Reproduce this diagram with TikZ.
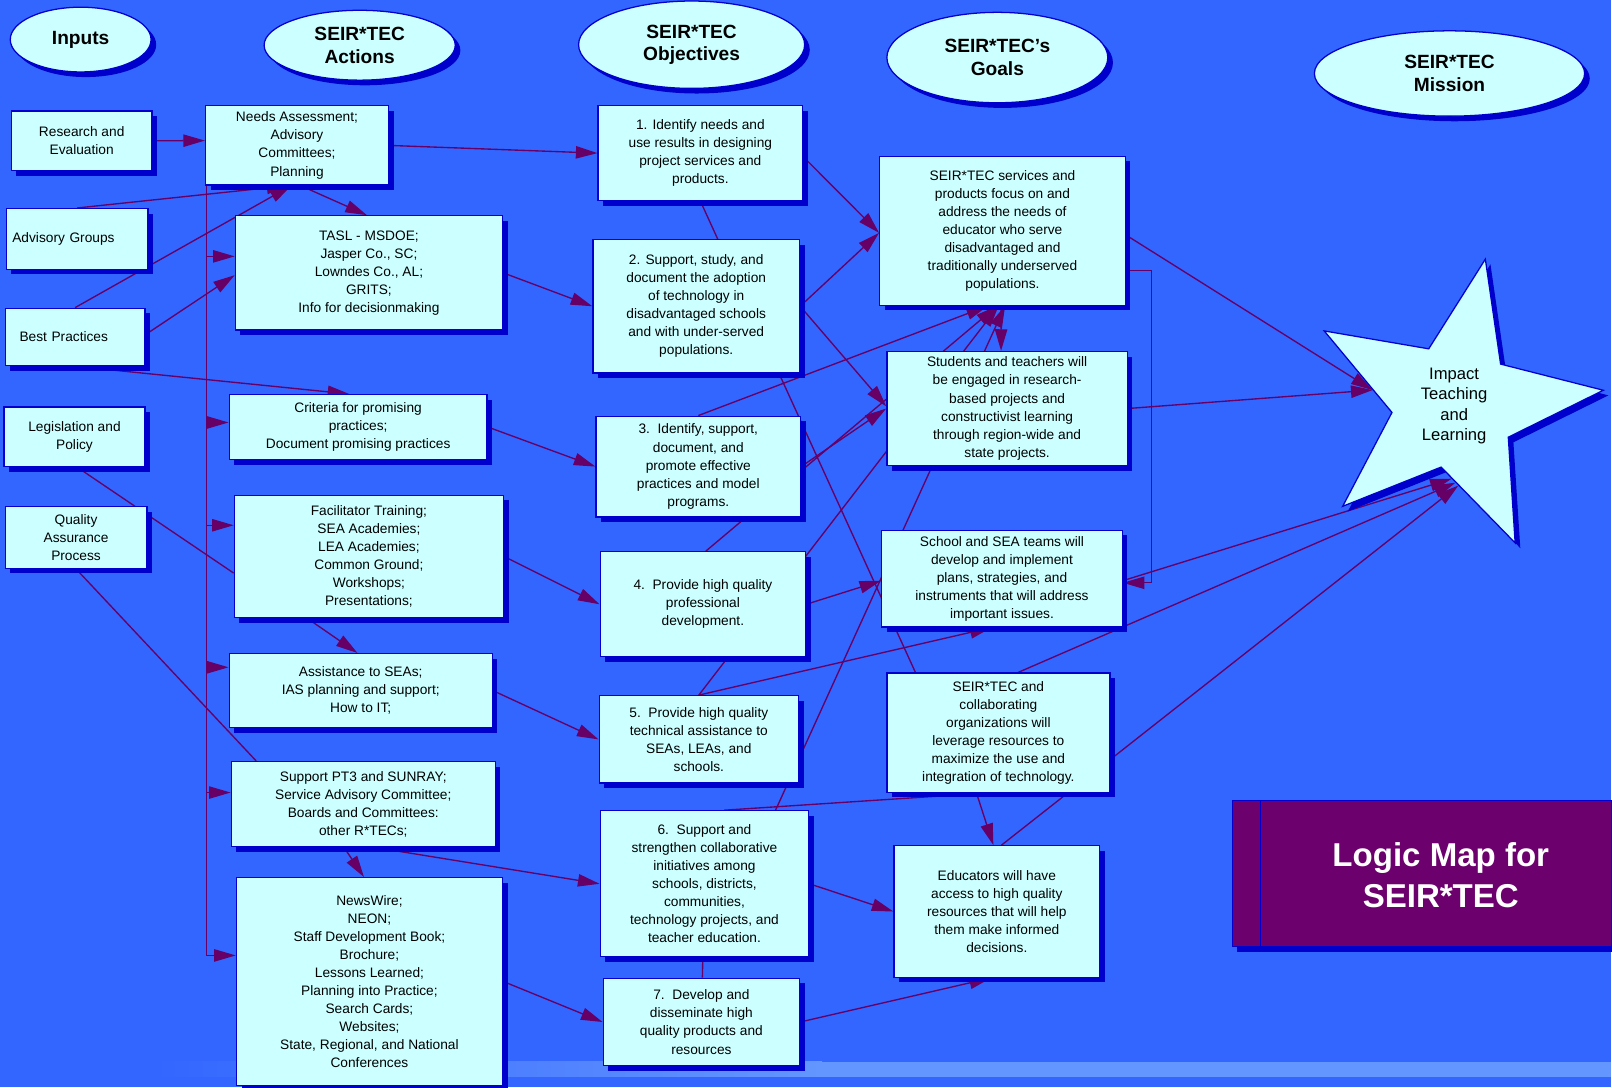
\documentclass[tikz,border=0pt]{standalone}
\usepackage{fontspec}
\setmainfont{Liberation Sans}
\usetikzlibrary{shapes.geometric,arrows.meta,shadows}
\definecolor{bgblue}{RGB}{51,102,255}
\definecolor{stripeblue}{RGB}{100,150,255}
\definecolor{boxfill}{RGB}{204,255,255}
\definecolor{boxline}{RGB}{0,0,204}
\definecolor{linkc}{RGB}{102,0,102}
\definecolor{titlefill}{RGB}{108,0,108}
\pgfdeclarelayer{bg}
\pgfdeclarelayer{lines}
\pgfsetlayers{bg,lines,main}
\tikzset{
  shadowed/.style={drop shadow={shadow xshift=0.1cm, shadow yshift=-0.1cm, fill=boxline, opacity=1}},
  inbox/.style 2 args={draw=boxline, line width=0.7pt, fill=boxfill, shadowed,
    minimum width=#1*0.02cm, minimum height=#2*0.02cm, inner sep=1pt,
    align=center, font=\fontsize{7.6}{10}\selectfont},
  hdr/.style 2 args={ellipse, draw=boxline, line width=0.7pt, fill=boxfill, shadowed,
    minimum width=#1*0.02cm, minimum height=#2*0.02cm, inner sep=0pt,
    align=center, font=\bfseries\fontsize{10.6}{12.5}\selectfont},
  link/.style={draw=linkc, line width=0.75pt, -{Triangle[length=0.42cm, width=0.24cm]}},
  plainlink/.style={draw=linkc, line width=0.75pt},
}
\begin{document}
\begin{tikzpicture}[x=0.02cm, y=-0.02cm]
	\begin{pgfonlayer}{bg}
		\path[use as bounding box, fill=bgblue] (0,0) rectangle (1568,1058);
		\shade[left color=bgblue, right color=stripeblue] (150,1033) rectangle (800,1048);
		\fill[stripeblue] (800,1033) rectangle (1568,1048);
	\end{pgfonlayer}

	\node[hdr={137}{63}] (hin) at (78.5,38.5) {Inputs};
	\node[hdr={186}{68}] (hact) at (350,44) {SEIR*TEC\\Actions};
	\node[hdr={220}{85}] (hobj) at (673,43.5) {SEIR*TEC\\Objectives};
	\node[hdr={215}{88}] (hgoal) at (970.5,56) {SEIR*TEC's\\Goals};
	\node[hdr={263}{83}] (hmis) at (1410.5,71.5) {SEIR*TEC\\Mission};

	\node[inbox={137}{58}] (res) at (79.5,137) {Research and\\Evaluation};
	\node[inbox={138}{59}, text width=2.52cm, align=left] (adv) at (75,232.5) {Advisory Groups};
	\node[inbox={136}{56}, text width=2.16cm, align=left] (best) at (73,328) {Best Practices};
	\node[inbox={137}{58}] (leg) at (72.5,425) {Legislation and\\Policy};
	\node[inbox={138}{60}] (qa) at (74,523) {Quality\\Assurance\\Process};

	\node[inbox={178}{77}] (need) at (289,141.5) {Needs Assessment;\\Advisory\\Committees;\\Planning};
	\node[inbox={260}{111}] (tasl) at (359,265.5) {TASL - MSDOE;\\Jasper Co., SC;\\Lowndes Co., AL;\\GRITS;\\Info for decisionmaking};
	\node[inbox={251}{63}] (crit) at (348.5,415.5) {Criteria for promising\\practices;\\Document promising practices};
	\node[inbox={262}{119}] (facil) at (359,541.5) {Facilitator Training;\\SEA Academies;\\LEA Academies;\\Common Ground;\\Workshops;\\Presentations;};
	\node[inbox={256}{72}] (assist) at (351,672) {Assistance to SEAs;\\IAS planning and support;\\How to IT;};
	\node[inbox={257}{83}] (pt3) at (353.5,782.5) {Support PT3 and SUNRAY;\\Service Advisory Committee;\\Boards and Committees:\\other R*TECs;};
	\node[inbox={259}{202}] (news) at (359.5,955) {NewsWire;\\NEON;\\Staff Development Book;\\Brochure;\\Lessons Learned;\\Planning into Practice;\\Search Cards;\\Websites;\\State, Regional, and National\\Conferences};

	\node[inbox={199}{92}] (o1) at (681.5,149) {1. Identify needs and\\use results in designing\\project services and\\products.};
	\node[inbox={201}{130}] (o2) at (677.5,298) {2. Support, study, and\\document the adoption\\of technology in\\disadvantaged schools\\and with under-served\\populations.};
	\node[inbox={199}{98}] (o3) at (679.5,454) {3.\ \ Identify, support,\\document, and\\promote effective\\practices and model\\programs.};
	\node[inbox={200}{102}] (o4) at (684,588) {4.\ \ Provide high quality\\professional\\development.};
	\node[inbox={194}{85}] (o5) at (680,719.5) {5.\ \ Provide high quality\\technical assistance to\\SEAs, LEAs, and\\schools.};
	\node[inbox={203}{142}] (o6) at (685.5,860) {6.\ \ Support and\\strengthen collaborative\\initiatives among\\schools, districts,\\communities,\\technology projects, and\\teacher education.};
	\node[inbox={191}{85}] (o7) at (682.5,994.5) {7.\ \ Develop and\\disseminate high\\quality products and\\resources};

	\node[inbox={239}{145}] (g1) at (975.5,224.5) {SEIR*TEC services and\\products focus on and\\address the needs of\\educator who serve\\disadvantaged and\\traditionally underserved\\populations.};
	\node[inbox={234}{111}] (g2) at (980,397.5) {Students and teachers will\\be engaged in research-\\based projects and\\constructivist learning\\through region-wide and\\state projects.};
	\node[inbox={234}{94}] (g3) at (975,563) {School and SEA teams will\\develop and implement\\plans, strategies, and\\instruments that will address\\important issues.};
	\node[inbox={217}{116}] (g4) at (971.5,713) {SEIR*TEC and\\collaborating\\organizations will\\leverage resources to\\maximize the use and\\integration of technology.};
	\node[inbox={200}{128}] (g5) at (970,887) {Educators will have\\access to high quality\\resources that will help\\them make informed\\decisions.};

	\node[star, star points=5, star point ratio=2.4, minimum size=5.84cm, inner sep=0pt,
		shape border rotate=-12, draw=boxline, line width=0.7pt, fill=boxfill, shadowed,
		align=center, font=\fontsize{9.2}{11.3}\selectfont] (impact) at (1415,395) {Impact\\Teaching\\and\\Learning};

	\node[draw=boxline, line width=0.7pt, fill=titlefill, shadowed, minimum width=369*0.02cm, minimum height=142*0.02cm] (title) at (1383.5,850) {};
	\draw[boxline, line width=0.7pt] ([xshift=0.56cm]title.north west) -- ([xshift=0.56cm]title.south west);
	\node[text=white, align=center, font=\bfseries\fontsize{18.3}{22.7}\selectfont] (titletext) at (1402,852) {Logic Map for\\SEIR*TEC};

	\begin{pgfonlayer}{lines}
		\coordinate (spine) at ([xshift=0.03cm]need.south west);
		\draw[plainlink] (spine) -- (spine |- news.169);

		\path (res.east) edge[link] (need.177)
		(adv.north) edge[link] (need.258)
		(best.north) edge[link] (need.262)
		(best.2) edge[link] (tasl.181)
		(best.274) edge[link] (crit.105)
		(leg.275) edge[plainlink] (facil.187)
		(qa.south) edge[plainlink] (pt3.158);

		\path (spine |- tasl.173) edge[link] (tasl.173)
		(spine |- crit.178) edge[link] (crit.178)
		(spine |- facil.167) edge[link] (facil.167)
		(spine |- assist.170) edge[link] (assist.170)
		(spine |- pt3.175) edge[link] (pt3.175)
		(spine |- news.169) edge[link] (news.169);

		\path (need.275) edge[link] (tasl.92)
		(need.east) edge[link] (o1.west)
		(tasl.east) edge[link] (o2.west)
		(crit.east) edge[link] (o3.west)
		(facil.east) edge[link] (o4.west)
		(facil.225) edge[link] (assist.95)
		(assist.east) edge[link] (o5.west)
		(pt3.246) edge[link] (news.93)
		(pt3.285) edge[link] (o6.west)
		(news.east) edge[link] (o7.west);

		\path (o1.358) edge[link] (g1.181)
		(o2.east) edge[link] (g1.181)
		(o2.east) edge[link] (g2.179)
		(o3.north) edge[link] (g1.259)
		(o3.east) edge[link] (g2.west)
		(o4.87) edge[link] (g1.266)
		(o4.east) edge[link] (g3.181)
		(o5.north) edge[link] (g1.267)
		(o5.north) edge[link] (g3.258)
		(o6.46) edge[link] (g1.272)
		(o6.75) edge[plainlink] (g4.259)
		(o6.east) edge[link] (g5.west)
		(o6) edge[plainlink] (o7)
		(o7.east) edge[link] (g5.265)
		(o1.south) edge[plainlink] (g4.144);

		\path (g1.269) edge[link] (g2.96)
		(g1.358) edge[link] (impact.169)
		(g2.east) edge[link] (impact.169)
		(g3.359) edge[link] (impact.268)
		(g4.72) edge[link] (impact.271)
		(g5.86) edge[link] (impact.273)
		(g4.250) edge[link] (g5.93);
		\draw[link] (g1.342) -- ++(25,0) |- (g3.358);
	\end{pgfonlayer}
\end{tikzpicture}
\end{document}
